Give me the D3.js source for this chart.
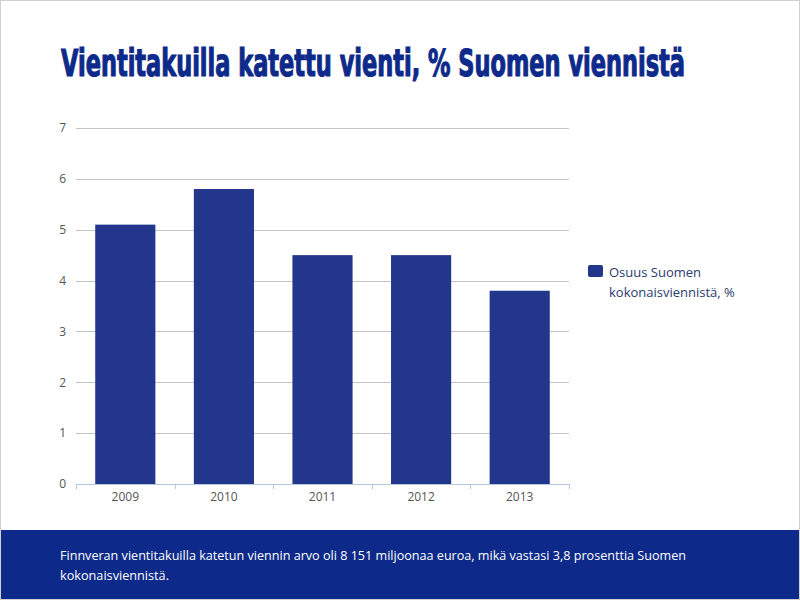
<!DOCTYPE html>
<html>
<head>
<meta charset="utf-8">
<script src="https://cdn.jsdelivr.net/npm/d3@7"></script>
<style>
  body { margin: 0; background: #fff; }
  svg { display: block; }
</style>
</head>
<body>
<svg id="chart"></svg>
<script>
const years = ["2009", "2010", "2011", "2012", "2013"];
const shares = [5.1, 5.8, 4.5, 4.5, 3.8];
const yTicks = [0, 1, 2, 3, 4, 5, 6, 7];
const titleText = "Vientitakuilla katettu vienti, % Suomen viennistä";
const legendLines = ["Osuus Suomen", "kokonaisviennistä, %"];
const footerLines = [
    "Finnveran vientitakuilla katetun viennin arvo oli 8 151 miljoonaa euroa, mikä vastasi 3,8 prosenttia Suomen",
    "kokonaisviennistä."
];

const width = 800;
const height = 600;
const barColor = "#22368c";
const navy = "#0d2a8a";

const svg = d3.select("#chart")
    .attr("width", width)
    .attr("height", height);

// outer frame
svg.append("rect")
    .attr("x", 0.5).attr("y", 0.5)
    .attr("width", width - 1).attr("height", height - 1)
    .attr("fill", "#fff")
    .attr("stroke", "#d0d0d0");

// title (condensed heavy look)
svg.append("text")
    .attr("x", 61)
    .attr("y", 76)
    .attr("textLength", 624)
    .attr("lengthAdjust", "spacingAndGlyphs")
    .style("font-family", "'DejaVu Sans Condensed', 'DejaVu Sans', sans-serif")
    .style("font-weight", "bold")
    .style("font-size", "37px")
    .attr("fill", navy)
    .attr("stroke", navy)
    .attr("stroke-width", 1.2)
    .text(titleText);

const plot = { left: 76, right: 569, top: 128, bottom: 484 };

const x = d3.scaleBand()
    .domain(years)
    .range([plot.left, plot.right])
    .paddingInner(0.39)
    .paddingOuter(0.195);

const y = d3.scaleLinear()
    .domain([0, 7])
    .range([plot.bottom, plot.top]);

// gridlines + y labels
const yAxis = svg.append("g")
    .attr("transform", `translate(${plot.left},0)`)
    .call(d3.axisLeft(y).tickValues(yTicks).tickFormat(d3.format("d"))
        .tickSize(-(plot.right - plot.left)).tickPadding(10));
yAxis.select(".domain").remove();
yAxis.selectAll(".tick line")
    .attr("stroke", "#c4c4c4")
    .attr("shape-rendering", "crispEdges");
yAxis.selectAll(".tick text")
    .attr("fill", "#555")
    .style("font-family", "'Open Sans', sans-serif")
    .style("font-size", "12px");

// bars
svg.selectAll(".bar")
    .data(shares)
    .enter()
    .append("rect")
    .attr("class", "bar")
    .attr("x", (d, i) => x(years[i]))
    .attr("width", x.bandwidth())
    .attr("y", d => y(d))
    .attr("height", d => y(0) - y(d))
    .attr("fill", barColor);

// x axis
const xAxis = svg.append("g")
    .attr("transform", `translate(0,${plot.bottom})`)
    .call(d3.axisBottom(x).tickSize(0).tickPadding(8));
xAxis.select(".domain")
    .attr("stroke", "#b4c6e0")
    .attr("shape-rendering", "crispEdges");
xAxis.selectAll(".tick text")
    .attr("fill", "#555")
    .style("font-family", "'Open Sans', sans-serif")
    .style("font-size", "12px");

// category separators on x axis
const step = x.step();
const bounds = years.map(d => x(d) - x.paddingOuter() * step).concat([plot.right]);
svg.append("g")
    .selectAll("line")
    .data(bounds)
    .enter()
    .append("line")
    .attr("x1", d => Math.round(d) + 0.5)
    .attr("x2", d => Math.round(d) + 0.5)
    .attr("y1", plot.bottom)
    .attr("y2", plot.bottom + 5)
    .attr("stroke", "#b4c6e0");

// legend
const legend = svg.append("g").attr("transform", "translate(588,265)");
legend.append("rect")
    .attr("width", 15).attr("height", 12)
    .attr("rx", 2)
    .attr("fill", barColor);
legend.selectAll("text")
    .data(legendLines)
    .enter()
    .append("text")
    .attr("x", 21)
    .attr("y", (d, i) => 12 + i * 20)
    .attr("fill", "#2b3a6e")
    .style("font-family", "'Open Sans', sans-serif")
    .style("font-size", "13px")
    .text(d => d);

// footer
svg.append("rect")
    .attr("x", 1).attr("y", 530)
    .attr("width", width - 2).attr("height", 69)
    .attr("fill", navy);
svg.append("g")
    .selectAll("text")
    .data(footerLines)
    .enter()
    .append("text")
    .attr("x", 60)
    .attr("y", (d, i) => 560 + i * 20)
    .attr("textLength", (d, i) => i === 0 ? 626 : 109)
    .attr("lengthAdjust", "spacingAndGlyphs")
    .attr("fill", "#fff")
    .style("font-family", "'Open Sans', sans-serif")
    .style("font-size", "13px")
    .text(d => d);
</script>
</body>
</html>
